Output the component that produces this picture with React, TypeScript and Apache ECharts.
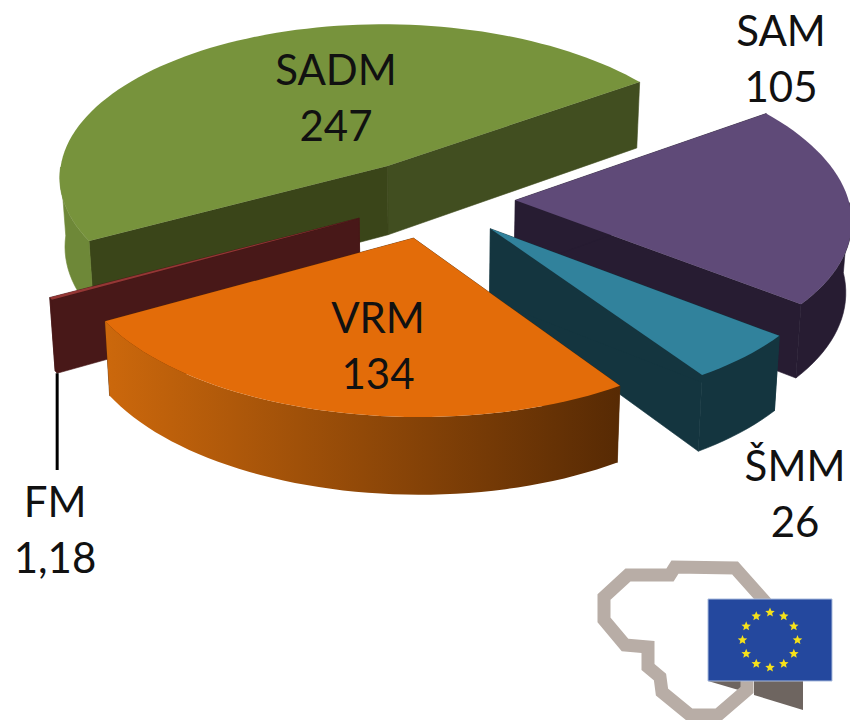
import React, { useEffect, useRef } from "react";
import * as echarts from "echarts";

const categories = ["SAM", "ŠMM", "VRM", "FM", "SADM"];
const values = [105, 26, 134, 1.18, 247];
const valueLabels = ["105", "26", "134", "1,18", "247"];
const topColors = ["#5F4A78", "#31829C", "#E36C09", "#953735", "#77933C"];
const radialColors = ["#271C32", "#14353F", "#5A2C05", "#481818", "#3A4519"];
const radialColorsB = ["#271C32", "#14353F", "#5A2C05", "#481818", "#414E20"];
const wallFrom = ["#271C32", "#14353F", "#CC680C", "#481818", "#6E8838"];
const wallTo = ["#271C32", "#14353F", "#572A04", "#481818", "#6E8838"];
const labelCentres = [[781, 58], [795, 493], [378, 345], [55, 529], [336, 97]];
const drawOrder = [4, 0, 3, 1, 2];

const START = 55, CX = 432, CY = 199, RX = 333, RY = 158, KX = 0.09, KY = 0.08, SHEAR = 8, H = 70, EXPLODE = 0.25, TAPER = 0.986;
const total = values.reduce((a, b) => a + b, 0);
const rad = (d: number) => (d * Math.PI) / 180;

const project = (X: number, Y: number, down: boolean) => {
  const sx = 1 / (1 - KX * Y);
  const sy = 1 / (1 - KY * Y);
  const x = CX + RX * X * sx + SHEAR * Y;
  const y = CY + RY * Y * sy;
  return down ? [CX + (x - CX) * TAPER, y + H * sy] : [x, y];
};

function sliceShapes(idx: number) {
  let a0 = START;
  for (let i = 0; i < idx; i++) a0 += (values[i] / total) * 360;
  const a1 = a0 + (values[idx] / total) * 360;
  const m = rad((a0 + a1) / 2);
  const ox = EXPLODE * Math.sin(m), oy = -EXPLODE * Math.cos(m);
  const n = Math.max(2, Math.ceil((a1 - a0) / 2));
  const rim: number[][] = [];
  const front: number[][] = [];
  for (let i = 0; i <= n; i++) {
    const t = rad(a0 + ((a1 - a0) * i) / n);
    const pt = [ox + Math.sin(t), oy - Math.cos(t)];
    rim.push(pt);
    if (Math.cos(t) < 0.02) front.push(pt);
  }
  return { apex: [ox, oy], rim, front };
}

function renderSlice(params: any) {
  const idx = drawOrder[params.dataIndex];
  const { apex, rim, front } = sliceShapes(idx);
  const P = (p: number[], d = false) => project(p[0], p[1], d);
  const first = rim[0], last = rim[rim.length - 1];
  const children: any[] = [];
  children.push({
    type: "polygon",
    shape: { points: [P(apex), P(last), P(last, true), P(apex, true)] },
    style: { fill: radialColorsB[idx], stroke: radialColorsB[idx], lineWidth: 0.6 },
  });
  children.push({
    type: "polygon",
    shape: { points: [P(apex), P(first), P(first, true), P(apex, true)] },
    style: { fill: radialColors[idx], stroke: radialColors[idx], lineWidth: 0.6 },
  });
  if (front.length > 1) {
    const flat = wallFrom[idx] === wallTo[idx];
    children.push({
      type: "polygon",
      shape: { points: [...front.map((p) => P(p)), ...front.slice().reverse().map((p) => P(p, true))] },
      style: {
        fill: new echarts.graphic.LinearGradient(0, 0, 1, 0, [
          { offset: 0, color: wallFrom[idx] },
          { offset: 1, color: wallTo[idx] },
        ]),
        stroke: flat ? wallFrom[idx] : undefined,
        lineWidth: flat ? 0.6 : 0,
      },
    });
  }
  children.push({
    type: "polygon",
    shape: { points: [P(apex), ...rim.map((p) => P(p))] },
    style: { fill: topColors[idx] },
  });
  if (categories[idx] === "FM") {
    const b = P(first, true);
    children.push({
      type: "line",
      shape: { x1: b[0], y1: b[1], x2: b[0], y2: 470 },
      style: { stroke: "#000", lineWidth: 3 },
    });
  }
  return { type: "group", children };
}

function renderLabel(params: any) {
  const idx = params.dataIndex;
  return {
    type: "text",
    x: labelCentres[idx][0],
    y: labelCentres[idx][1],
    style: {
      text: `${categories[idx]}\n${valueLabels[idx]}`,
      font: '42px Lato, "Open Sans", sans-serif',
      fill: "#111",
      align: "center",
      verticalAlign: "middle",
      lineHeight: 56,
    },
  };
}

const logoPath = [[768, 605], [735, 568], [675, 567], [670, 575], [628, 575], [604, 597], [604, 620], [625, 645], [648, 647], [648, 667], [660, 677], [662, 692], [690, 715], [718, 715], [747, 690], [747, 680]];

function starPoints(cx: number, cy: number, r: number) {
  const pts: number[][] = [];
  for (let i = 0; i < 10; i++) {
    const a = rad(i * 36);
    const q = i % 2 ? r * 0.45 : r;
    pts.push([cx + q * Math.sin(a), cy - q * Math.cos(a)]);
  }
  return pts;
}

function logoGraphics() {
  const stars = Array.from({ length: 12 }, (_, i) => {
    const a = rad(i * 30);
    return {
      type: "polygon",
      shape: { points: starPoints(770 + 27.5 * Math.sin(a), 640 - 27.5 * Math.cos(a), 5) },
      style: { fill: "#F5E11A" },
    };
  });
  return [
    { type: "polygon", shape: { points: [[708, 681], [742, 691], [742, 681]] }, style: { fill: "#6E6560" } },
    { type: "polygon", shape: { points: [[754, 681], [803, 681], [803, 710], [754, 695]] }, style: { fill: "#6E6560" } },
    { type: "polyline", shape: { points: logoPath }, style: { stroke: "#B8ADA6", lineWidth: 13, fill: "none", lineJoin: "miter" } },
    { type: "rect", shape: { x: 708, y: 599, width: 124, height: 82 }, style: { fill: "#24489E", stroke: "#A9BBDD", lineWidth: 1 } },
    ...stars,
  ];
}

export default function App() {
  const ref = useRef<HTMLDivElement>(null);
  useEffect(() => {
    const chart = echarts.init(ref.current!, undefined, { renderer: "svg" });
    chart.setOption({
      animation: false,
      backgroundColor: "#fff",
      graphic: logoGraphics(),
      series: [
        {
          type: "custom",
          coordinateSystem: "none",
          silent: true,
          z: 2,
          renderItem: renderSlice,
          data: drawOrder.map((i) => ({ name: categories[i], value: values[i] })),
        },
        {
          type: "custom",
          coordinateSystem: "none",
          silent: true,
          z: 3,
          renderItem: renderLabel,
          data: categories.map((c, i) => ({ name: c, value: values[i] })),
        },
      ],
    });
    return () => chart.dispose();
  }, []);
  return <div ref={ref} style={{ position: "absolute", left: 0, top: 0, width: 850, height: 720 }} />;
}
